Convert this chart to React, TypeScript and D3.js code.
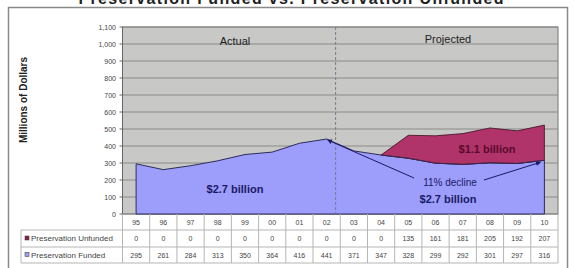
import React from "react";
import * as d3 from "d3";

const categories = ["95", "96", "97", "98", "99", "00", "01", "02", "03", "04", "05", "06", "07", "08", "09", "10"];
const unfunded = [0, 0, 0, 0, 0, 0, 0, 0, 0, 0, 135, 161, 181, 205, 192, 207];
const funded = [295, 261, 284, 313, 350, 364, 416, 441, 371, 347, 328, 299, 292, 301, 297, 316];
const yTicks = [0, 100, 200, 300, 400, 500, 600, 700, 800, 900, 1000, 1100];
const seriesNames = ["Preservation Unfunded", "Preservation Funded"];

const W = 574;
const H = 268;
const FONT = "'Liberation Sans', Arial, sans-serif";

export default function App() {
  const plotL = 122.5;
  const plotR = 558;
  const plotT = 27;
  const plotB = 214;

  const x = d3.scalePoint<string>().domain(categories).range([plotL, plotR]).padding(0.5);
  const step = x.step();
  const y = d3.scaleLinear().domain([0, 1100]).range([plotB, plotT]);

  const rows = categories.map((c, i) => ({ c, f: funded[i], u: unfunded[i] }));

  const fundedArea = d3
    .area<any>()
    .x((d) => x(d.c)!)
    .y0(y(0))
    .y1((d) => y(d.f));
  const totalArea = d3
    .area<any>()
    .x((d) => x(d.c)!)
    .y0((d) => y(d.f))
    .y1((d) => y(d.f + d.u));

  const projRows = rows.slice(9);

  const iPeak = 7;
  const iEnd = 15;
  const dividerX = x(categories[7])! + step * 0.33;

  const rowLines = [230, 247, 263];
  const rowText = [224.5, 241, 257.5];

  const fmt = d3.format(",");

  return (
    <svg
      width={W}
      height={H}
      style={{ position: "absolute", left: 0, top: 0, background: "#fff" }}
      fontFamily={FONT}
    >
      <defs>
        <marker id="arr" viewBox="0 0 10 10" refX="9" refY="5" markerWidth="5" markerHeight="5" orient="auto">
          <path d="M0,0 L10,5 L0,10 z" fill="#1a1a66" />
        </marker>
      </defs>
      <rect x={0} y={0} width={W} height={H} fill="#fff" />
      {/* title (partially cut off at top, as in the reference) */}
      <text x={291} y={4} textAnchor="middle" fontSize={16} fontWeight="bold" fill="#222" textLength={425}>
        Preservation Funded vs. Preservation Unfunded
      </text>
      {/* outer frame */}
      <rect x={8.5} y={7.5} width={559} height={270} fill="#fff" stroke="#8a8a8a" strokeWidth={1.5} />

      {/* plot area */}
      <rect x={plotL} y={plotT} width={plotR - plotL} height={plotB - plotT} fill="#c8c8c6" stroke="#777" strokeWidth={1} />
      {yTicks.map((t) => (
        <line key={t} x1={plotL} x2={plotR} y1={y(t)} y2={y(t)} stroke="#8a8a8a" strokeWidth={1} />
      ))}

      {/* areas */}
      <path d={fundedArea(rows) + "Z"} fill="#9d9dfb" stroke="#2c2c5a" strokeWidth={1} />
      <path d={totalArea(projRows) + "Z"} fill="#b0336a" stroke="#3a1020" strokeWidth={0.8} />
      <path d={fundedArea.lineY1()(projRows) || ""} fill="none" stroke="#3a2a55" strokeWidth={0.8} />

      {/* divider */}
      <line x1={dividerX} x2={dividerX} y1={plotT} y2={plotB} stroke="#7a7a8a" strokeWidth={1} strokeDasharray="3,2" />

      {/* y axis */}
      <line x1={plotL} x2={plotL} y1={plotT} y2={plotB} stroke="#666" />
      {yTicks.map((t) => (
        <g key={"yt" + t}>
          <line x1={plotL - 3} x2={plotL} y1={y(t)} y2={y(t)} stroke="#666" />
          <text x={116} y={y(t) + 2.5} textAnchor="end" fontSize={7} fill="#444">
            {fmt(t)}
          </text>
        </g>
      ))}
      <text
        transform={`translate(27,${100}) rotate(-90)`}
        textAnchor="middle"
        fontSize={10}
        fontWeight="bold"
        fill="#222"
      >
        Millions of Dollars
      </text>

      {/* region labels */}
      <text x={235} y={45} textAnchor="middle" fontSize={11} fill="#222">Actual</text>
      <text x={448} y={43} textAnchor="middle" fontSize={11} fill="#222">Projected</text>

      {/* annotations */}
      <text x={235} y={193} textAnchor="middle" fontSize={11} fontWeight="bold" fill="#1a1a66">$2.7 billion</text>
      <text x={487} y={153} textAnchor="middle" fontSize={11} fontWeight="bold" fill="#5a0a2a">$1.1 billion</text>
      <text x={450} y={186} textAnchor="middle" fontSize={10} fill="#1a1a66">11% decline</text>
      <text x={448} y={203} textAnchor="middle" fontSize={11} fontWeight="bold" fill="#1a1a66">$2.7 billion</text>
      <line
        x1={414}
        y1={178}
        x2={x(categories[iPeak])! + 1}
        y2={y(funded[iPeak]) + 1}
        stroke="#1a1a66"
        strokeWidth={1}
        markerEnd="url(#arr)"
      />
      <line
        x1={484}
        y1={180}
        x2={x(categories[iEnd])! - 4}
        y2={y(funded[iEnd]) + 2}
        stroke="#1a1a66"
        strokeWidth={1}
        markerEnd="url(#arr)"
      />

      {/* data table */}
      {categories.map((c, i) => {
        const left = x(c)! - step / 2;
        return <line key={"v" + i} x1={left} x2={left} y1={plotB} y2={rowLines[2]} stroke="#b5b5b5" />;
      })}
      <line x1={plotR} x2={plotR} y1={plotB} y2={rowLines[2]} stroke="#b5b5b5" />
      <line x1={21} x2={21} y1={rowLines[0]} y2={rowLines[2]} stroke="#b5b5b5" />
      {rowLines.map((ly, i) => (
        <line key={"h" + i} x1={21} x2={plotR} y1={ly} y2={ly} stroke="#b5b5b5" />
      ))}
      {categories.map((c, i) => (
        <g key={"t" + i} fontSize={7} fill="#444" textAnchor="middle">
          <text x={x(c)} y={rowText[0]}>{c}</text>
          <text x={x(c)} y={rowText[1]}>{unfunded[i]}</text>
          <text x={x(c)} y={rowText[2]}>{funded[i]}</text>
        </g>
      ))}
      <rect x={25} y={rowText[1] - 5} width={4} height={4} fill="#8a2050" stroke="#333" strokeWidth={0.5} />
      <rect x={25} y={rowText[2] - 5} width={4} height={4} fill="#9d9dfb" stroke="#333" strokeWidth={0.5} />
      <text x={31} y={rowText[1]} fontSize={8} fill="#444">{seriesNames[0]}</text>
      <text x={31} y={rowText[2]} fontSize={8} fill="#444">{seriesNames[1]}</text>
    </svg>
  );
}
